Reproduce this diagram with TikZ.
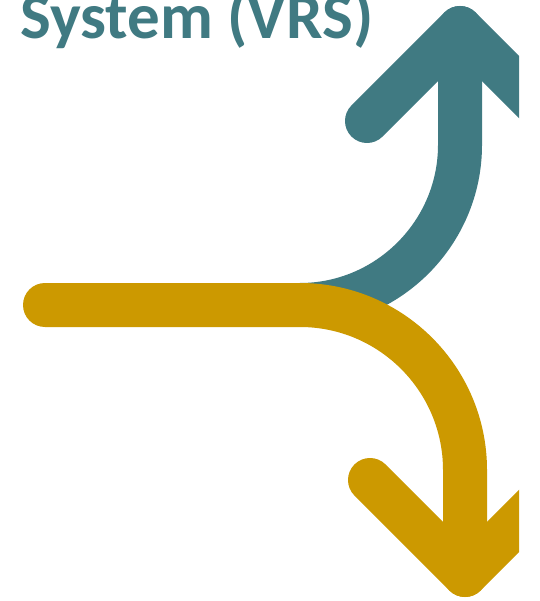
\documentclass[tikz,border=0pt]{standalone}
\usepackage{fontspec}
\setmainfont{Carlito}
\definecolor{teal1}{HTML}{407A82}
\definecolor{gold1}{HTML}{CC9900}
\begin{document}
\begin{tikzpicture}[x=1pt,y=-1pt,
  band/.style={line width=44pt,line cap=round,line join=round}]
\useasboundingbox (0,0) rectangle (539,601);
\fill[white] (0,0) rectangle (539,601);
\node[anchor=base west,inner sep=0pt,text=teal1,font=\bfseries\fontsize{65}{65}\selectfont] (title) at (20,39) {System (VRS)};
\begin{scope}
\clip (0,0) rectangle (519,601);
% teal arrow (up)
\draw[band,teal1] (300,305) .. controls (388,305) and (460,233) .. (460,145) -- (460,28);
\draw[band,teal1] (367,121) -- (460,28) -- (553,121);
% gold arrow (down)
\draw[band,gold1] (45,305) -- (300,305) .. controls (391,305) and (465,379) .. (465,470) -- (465,575);
\draw[band,gold1] (370,480) -- (465,575) -- (560,480);
\end{scope}
\end{tikzpicture}
\end{document}
